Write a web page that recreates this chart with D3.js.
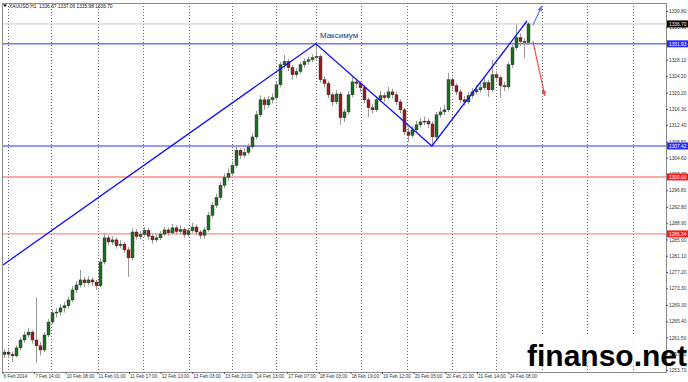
<!DOCTYPE html>
<html>
<head>
<meta charset="utf-8">
<script src="https://cdn.jsdelivr.net/npm/d3@7"></script>
<style>
  body { margin: 0; background: #fff; }
  svg { display: block; font-family: "Liberation Sans", Arial, sans-serif; }
</style>
</head>
<body>
<svg id="chart"></svg>
<script>
// XAUUSD H1, 6 Feb - 24 Feb 2014 (one candle drawn per two hours)
var opens = [1257.4,1258.0,1257.5,1257.1,1259.0,1260.9,1262.1,1262.8,1260.9,1259.5,1258.5,1262.1,1265.2,1267.4,1267.6,1268.6,1269.1,1270.5,1272.9,1274.1,
  1275.3,1274.6,1275.3,1274.8,1273.9,1279.6,1285.4,1284.4,1284.9,1283.5,1283.9,1282.5,1280.6,1286.8,1285.7,1286.2,1287.2,1285.8,1284.9,1285.4,
  1286.3,1287.3,1286.6,1287.8,1286.9,1287.4,1286.2,1287.1,1288.0,1286.8,1286.0,1287.3,1290.8,1293.2,1295.1,1298.0,1299.9,1300.9,1302.8,1306.4,
  1305.2,1305.9,1307.2,1309.6,1314.9,1318.5,1317.3,1318.5,1319.0,1322.1,1326.9,1327.7,1326.2,1324.5,1325.3,1326.9,1327.7,1328.1,1328.6,1328.9,
  1323.3,1322.4,1319.7,1318.0,1319.9,1314.2,1315.6,1319.7,1322.8,1322.4,1321.4,1318.5,1316.6,1316.1,1318.5,1319.5,1319.0,1320.4,1319.7,1318.0,
  1316.1,1310.8,1310.0,1311.3,1312.5,1313.2,1313.4,1312.7,1309.6,1314.9,1315.6,1316.1,1323.3,1321.9,1320.4,1318.5,1318.0,1319.5,1320.4,1320.9,
  1321.4,1322.6,1320.9,1324.5,1323.8,1321.9,1321.6,1326.9,1331.0,1333.4,1332.5,1332.2];
var highs = [1258.7,1258.6,1258.1,1259.6,1261.5,1262.9,1263.8,1263.2,1271.2,1260.4,1262.8,1265.9,1268.2,1268.5,1269.5,1270.0,1271.3,1273.8,1275.0,1277.7,
  1276.0,1276.2,1275.9,1275.3,1280.4,1286.3,1286.0,1285.8,1285.5,1284.8,1284.5,1283.2,1287.7,1287.5,1287.1,1288.0,1287.8,1286.4,1286.3,1287.0,
  1288.1,1287.9,1288.7,1288.4,1288.3,1287.9,1287.8,1289.0,1288.6,1287.3,1288.0,1291.6,1294.0,1296.0,1298.9,1300.8,1302.0,1303.8,1307.3,1306.9,
  1306.8,1308.0,1310.5,1315.8,1319.6,1319.2,1319.4,1320.0,1322.9,1327.6,1329.3,1328.3,1326.8,1326.0,1327.5,1328.4,1328.9,1329.4,1331.3,1329.4,
  1324.1,1323.0,1320.3,1320.8,1320.4,1316.3,1320.5,1324.0,1323.6,1322.9,1322.0,1319.0,1317.5,1319.3,1320.6,1320.3,1321.6,1321.2,1320.4,1318.6,
  1316.6,1311.9,1312.2,1313.4,1314.2,1314.5,1314.0,1313.3,1315.6,1316.7,1317.3,1325.0,1323.9,1322.5,1321.0,1319.4,1320.4,1321.3,1322.0,1322.6,
  1323.9,1323.2,1328.1,1325.4,1324.3,1322.8,1327.6,1331.8,1336.6,1334.4,1333.3,1337.1];
var lows = [1256.6,1256.5,1255.6,1256.7,1258.4,1260.2,1261.4,1260.0,1255.4,1257.2,1258.0,1261.5,1264.6,1266.3,1266.8,1267.5,1268.4,1270.0,1272.2,1273.5,
  1273.6,1274.0,1273.9,1272.9,1273.5,1279.0,1283.6,1283.7,1282.8,1282.9,1281.8,1276.0,1280.0,1285.0,1285.0,1285.7,1285.0,1284.0,1284.3,1284.9,
  1285.8,1285.9,1286.2,1286.1,1286.4,1285.4,1285.7,1286.6,1286.0,1285.2,1285.2,1286.9,1290.2,1292.6,1294.5,1297.3,1299.0,1300.3,1302.2,1304.3,
  1304.6,1305.3,1306.8,1309.0,1314.3,1316.1,1316.6,1317.6,1318.4,1321.5,1326.0,1325.4,1323.3,1323.8,1324.7,1326.2,1326.9,1327.5,1327.8,1322.6,
  1321.5,1318.9,1317.0,1317.4,1312.5,1313.2,1315.0,1319.1,1321.3,1320.5,1317.7,1314.4,1315.2,1315.6,1317.9,1318.0,1318.5,1318.8,1317.1,1315.2,
  1310.0,1308.4,1309.4,1310.6,1311.8,1312.4,1311.7,1307.5,1309.0,1314.2,1314.9,1315.6,1320.9,1319.6,1317.7,1317.1,1317.5,1318.8,1319.7,1320.3,
  1320.8,1319.2,1320.4,1322.9,1319.0,1320.6,1321.0,1326.2,1330.4,1331.4,1328.6,1331.9];
var closes = [1258.0,1257.5,1257.1,1259.0,1260.9,1262.1,1262.8,1260.9,1259.5,1258.5,1262.1,1265.2,1267.4,1267.6,1268.6,1269.1,1270.5,1272.9,1274.1,1275.3,
  1274.6,1275.3,1274.8,1273.9,1279.6,1285.4,1284.4,1284.9,1283.5,1283.9,1282.5,1280.6,1286.8,1285.7,1286.2,1287.2,1285.8,1284.9,1285.4,1286.3,
  1287.3,1286.6,1287.8,1286.9,1287.4,1286.2,1287.1,1288.0,1286.8,1286.0,1287.3,1290.8,1293.2,1295.1,1298.0,1299.9,1300.9,1302.8,1306.4,1305.2,
  1305.9,1307.2,1309.6,1314.9,1318.5,1317.3,1318.5,1319.0,1322.1,1326.9,1327.7,1326.2,1324.5,1325.3,1326.9,1327.7,1328.1,1328.6,1328.9,1323.3,
  1322.4,1319.7,1318.0,1319.9,1314.2,1315.6,1319.7,1322.8,1322.4,1321.4,1318.5,1316.6,1316.1,1318.5,1319.5,1319.0,1320.4,1319.7,1318.0,1316.1,
  1310.8,1310.0,1311.3,1312.5,1313.2,1313.4,1312.7,1309.6,1314.9,1315.6,1316.1,1323.3,1321.9,1320.4,1318.5,1318.0,1319.5,1320.4,1320.9,1321.4,
  1322.6,1320.9,1324.5,1323.8,1321.9,1321.6,1326.9,1331.0,1333.4,1332.5,1332.2,1336.7];

// time axis, in hourly bars from the first bar
var timeLabels = ["6 Feb 2014","7 Feb 14:00","10 Feb 08:00","11 Feb 01:00","11 Feb 17:00","12 Feb 10:00",
  "13 Feb 03:00","13 Feb 20:00","14 Feb 13:00","17 Feb 07:00","18 Feb 03:00","18 Feb 19:00","19 Feb 12:00",
  "20 Feb 05:00","20 Feb 21:00","21 Feb 14:00","24 Feb 08:00"];
var timeBars = [0,16,32,48,64,80,96,112,128,144,160,176,192,208,224,240,256];
var gridBars = [3,25,48.5,71.5,94.5,116.5,138.5,159,181.5,205,227.5,250,273,296,319];

var priceTicks = [1339.80,1335.90,1332.00,1328.10,1324.20,1320.20,1316.30,1312.40,1308.50,1304.60,1300.70,
  1296.80,1292.80,1288.90,1285.00,1281.10,1277.20,1273.30,1269.30,1265.40,1261.50,1257.60,1253.70];

var blueLevels = [1331.93, 1307.42];
var redLevels = [1300.00, 1286.34];
var lastPrice = 1336.70;
var header = "XAUUSD,H1  1336.67 1337.06 1335.98 1336.70";

// zigzag drawn by hand on the chart
var zigBars = [0.5, 158.8, 217.5, 265.6];
var zigPrices = [1278.9, 1331.93, 1307.42, 1337.4];
var upArrowBars = [268.6, 273.1], upArrowPrices = [1336.4, 1341.0];
var downArrowBars = [268.6, 274.6], downArrowPrices = [1332.6, 1319.5];

var W = 688, H = 382;
var pl = 2, pr = 666, pt = 3, pb = 372;

var svg = d3.select("#chart").attr("width", W).attr("height", H);
svg.append("rect").attr("width", W).attr("height", H).attr("fill", "#fff");

var xBar = d3.scaleLinear().domain([0, 256]).range([2, 508]);
var xCandle = d3.scaleLinear().domain([0, closes.length - 1]).range([4, 528]);
var y = d3.scaleLinear().domain([1253.7, 1339.8]).range([370, 11]);

var defs = svg.append("defs");
defs.append("clipPath").attr("id", "plotclip")
  .append("rect").attr("x", pl).attr("y", pt).attr("width", pr - pl).attr("height", pb - pt);

function arrowHead(id, color) {
  defs.append("marker").attr("id", id)
    .attr("viewBox", "0 0 10 10").attr("refX", 9).attr("refY", 5)
    .attr("markerWidth", 5).attr("markerHeight", 5).attr("orient", "auto")
    .append("path").attr("d", "M0,1 L10,5 L0,9 Z").attr("fill", color);
}
arrowHead("headBlue", "#6470ff");
arrowHead("headRed", "#ff3b3b");

var plot = svg.append("g").attr("clip-path", "url(#plotclip)");

// vertical dotted grid
plot.selectAll(".grid").data(gridBars).enter().append("line")
  .attr("x1", d => Math.round(xBar(d)) + 0.5).attr("x2", d => Math.round(xBar(d)) + 0.5)
  .attr("y1", pt).attr("y2", pb)
  .attr("stroke", "#666").attr("stroke-dasharray", "1,2");

// bid line
plot.append("line").attr("x1", pl).attr("x2", pr)
  .attr("y1", y(lastPrice)).attr("y2", y(lastPrice))
  .attr("stroke", "#c8c8c8");

// horizontal levels
plot.selectAll(".blueLevel").data(blueLevels).enter().append("line")
  .attr("x1", pl).attr("x2", pr).attr("y1", d => y(d)).attr("y2", d => y(d))
  .attr("stroke", "#7272ff").attr("stroke-width", 1.4);
plot.selectAll(".redLevel").data(redLevels).enter().append("line")
  .attr("x1", pl).attr("x2", pr).attr("y1", d => y(d)).attr("y2", d => y(d))
  .attr("stroke", "#ff8a8a").attr("stroke-width", 1.4);

// candles
var candles = plot.append("g").selectAll("g").data(closes).enter().append("g");
candles.append("line")
  .attr("x1", (d, i) => Math.round(xCandle(i)) + 0.5).attr("x2", (d, i) => Math.round(xCandle(i)) + 0.5)
  .attr("y1", (d, i) => y(highs[i])).attr("y2", (d, i) => y(lows[i]))
  .attr("stroke", "#9a9a9a");
candles.append("rect")
  .attr("x", (d, i) => Math.round(xCandle(i)) - 1)
  .attr("width", 3)
  .attr("y", (d, i) => y(Math.max(opens[i], d)))
  .attr("height", (d, i) => Math.max(1, Math.abs(y(opens[i]) - y(d))))
  .attr("fill", (d, i) => d >= opens[i] ? "#1d6e1d" : "#962020")
  .attr("stroke", "#2a2a2a").attr("stroke-width", 0.4);

// zigzag
var zig = d3.line().x(d => xBar(d[0])).y(d => y(d[1]));
plot.append("path")
  .attr("d", zig(zigBars.map((b, i) => [b, zigPrices[i]])))
  .attr("fill", "none").attr("stroke", "#1010ff").attr("stroke-width", 1.3);

svg.append("path")
  .attr("d", zig(upArrowBars.map((b, i) => [b, upArrowPrices[i]])))
  .attr("fill", "none").attr("stroke", "#6470ff").attr("stroke-width", 1.1)
  .attr("marker-end", "url(#headBlue)");
svg.append("path")
  .attr("d", zig(downArrowBars.map((b, i) => [b, downArrowPrices[i]])))
  .attr("fill", "none").attr("stroke", "#ff3b3b").attr("stroke-width", 1.1)
  .attr("marker-end", "url(#headRed)");

svg.append("text")
  .attr("x", xBar(zigBars[1]) + 4).attr("y", y(zigPrices[1]) - 6)
  .attr("font-size", 8).attr("fill", "#2b3552")
  .text("Максимум");

// frame
svg.append("rect").attr("x", pl + 0.5).attr("y", pt + 0.5)
  .attr("width", pr - pl).attr("height", pb - pt)
  .attr("fill", "none").attr("stroke", "#8a8a8a");

// price axis
var yAxis = svg.append("g").attr("transform", "translate(" + pr + ",0)")
  .call(d3.axisRight(y).tickValues(priceTicks).tickFormat(d3.format(".2f")).tickSize(2).tickPadding(1));
yAxis.select(".domain").remove();
yAxis.selectAll("line").attr("stroke", "#555");
yAxis.selectAll("text").attr("font-size", 4.8).attr("fill", "#333")
  .attr("font-family", "Liberation Sans, Arial, sans-serif");

// time axis
var xAxis = svg.append("g").attr("transform", "translate(0," + pb + ")")
  .call(d3.axisBottom(xBar).tickValues(timeBars).tickFormat((d, i) => timeLabels[i]).tickSize(2).tickPadding(1));
xAxis.select(".domain").remove();
xAxis.selectAll("line").attr("stroke", "#555").attr("transform", "translate(0.5,0)");
xAxis.selectAll("text").attr("font-size", 4.7).attr("fill", "#333")
  .attr("text-anchor", "start").attr("dx", 1)
  .attr("font-family", "Liberation Sans, Arial, sans-serif");

// price tags on the axis
function tag(price, bg) {
  var g = svg.append("g").attr("transform", "translate(" + (pr + 1) + "," + y(price) + ")");
  g.append("rect").attr("x", 0).attr("y", -3.5).attr("width", 21).attr("height", 7).attr("fill", bg);
  g.append("text").attr("x", 2).attr("y", 0).attr("dy", "0.35em")
    .attr("font-size", 4.8).attr("fill", "#fff").text(d3.format(".2f")(price));
}
blueLevels.forEach(p => tag(p, "#2a2aff"));
redLevels.forEach(p => tag(p, "#ff1a1a"));
tag(lastPrice, "#000");

// header
svg.append("path").attr("d", "M3,4.5 L7,4.5 L5,7 Z").attr("fill", "#000");
svg.append("text").attr("x", 9).attr("y", 7.6).attr("font-size", 4.8).attr("fill", "#111")
  .attr("xml:space", "preserve").style("white-space", "pre").text(header);

// watermark
svg.append("rect").attr("x", 520).attr("y", 334).attr("width", pr - 520).attr("height", 32)
  .attr("fill", "#fff").attr("opacity", 0.85);
svg.append("text").attr("x", 527).attr("y", 366)
  .attr("font-size", 30).attr("font-weight", "bold").attr("fill", "#000")
  .text("finanso.net");
</script>
</body>
</html>
